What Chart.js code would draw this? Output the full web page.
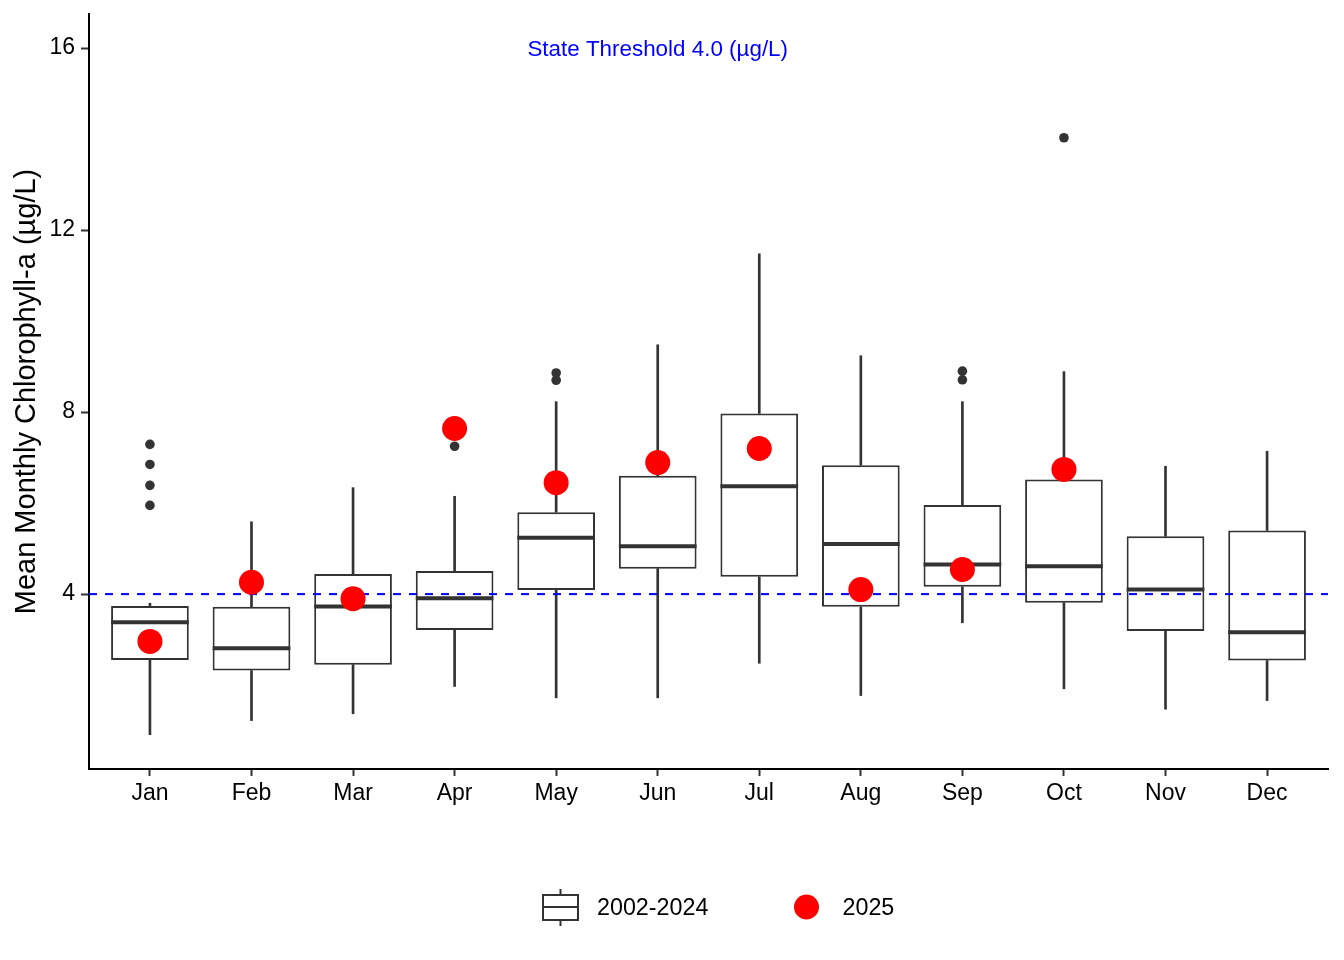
<!DOCTYPE html>
<html>
<head>
<meta charset="utf-8">
<script src="https://cdn.jsdelivr.net/npm/chart.js@4/dist/chart.umd.min.js"></script>
<style>
  body { margin: 0; background: #fff; }
  canvas { display: block; }
</style>
</head>
<body>
<canvas id="chl" width="1344" height="960"></canvas>
<script>
// data
const months = ["Jan", "Feb", "Mar", "Apr", "May", "Jun", "Jul", "Aug", "Sep", "Oct", "Nov", "Dec"];
const whiskerLow = [0.91, 1.22, 1.37, 1.97, 1.72, 1.72, 2.48, 1.77, 3.37, 1.92, 1.47, 1.66];
const q1 = [2.55, 2.32, 2.45, 3.21, 4.09, 4.56, 4.38, 3.72, 4.16, 3.81, 3.19, 2.54];
const median = [3.38, 2.81, 3.73, 3.91, 5.24, 5.05, 6.37, 5.10, 4.65, 4.61, 4.10, 3.16];
const q3 = [3.74, 3.72, 4.44, 4.51, 5.80, 6.60, 7.97, 6.83, 5.96, 6.52, 5.27, 5.40];
const whiskerHigh = [3.80, 5.59, 6.34, 6.15, 8.23, 9.48, 11.48, 9.24, 8.23, 8.89, 6.81, 7.14];
const outlierMonth = [1, 1, 1, 1, 4, 5, 5, 9, 9, 10];
const outlierValue = [7.29, 6.85, 6.39, 5.95, 7.25, 8.86, 8.70, 8.90, 8.71, 14.03];
const values2025 = [2.96, 4.26, 3.90, 7.64, 6.45, 6.89, 7.20, 4.10, 4.54, 6.74];
const yTicks = [4, 8, 12, 16];
const threshold = 4;

const FONT = "'Liberation Sans', Arial, sans-serif";
const DARK = "#333333";

const boxData = months.map((m, i) => ({ x: i + 1, y: [q1[i], q3[i]] }));
const lowData = months.map((m, i) => ({ x: i + 1, y: [whiskerLow[i], q1[i]] }));
const highData = months.map((m, i) => ({ x: i + 1, y: [q3[i], whiskerHigh[i]] }));
const outData = outlierMonth.map((m, i) => ({ x: m, y: outlierValue[i] }));
const pts2025 = values2025.map((v, i) => ({ x: i + 1, y: v }));

// median bars drawn right after the boxes, annotation + legend at the end
const boxExtras = {
    id: "boxExtras",
    afterDatasetDraw(chart, args) {
        if (chart.data.datasets[args.index].label !== "boxes") return;
        const ctx = chart.ctx;
        const yScale = chart.scales.y;
        ctx.save();
        ctx.strokeStyle = DARK;
        ctx.lineWidth = 4;
        args.meta.data.forEach((el, i) => {
            const y = yScale.getPixelForValue(median[i]);
            ctx.beginPath();
            ctx.moveTo(el.x - el.width / 2, y);
            ctx.lineTo(el.x + el.width / 2, y);
            ctx.stroke();
        });
        ctx.restore();
    },
    afterDraw(chart) {
        const ctx = chart.ctx;
        const { x, y } = chart.scales;
        ctx.save();
        // threshold label
        ctx.fillStyle = "#0000FF";
        ctx.font = "22.4px " + FONT;
        ctx.textAlign = "center";
        ctx.textBaseline = "middle";
        ctx.fillText("State Threshold 4.0 (\u00b5g/L)", x.getPixelForValue(6), y.getPixelForValue(16) + 1.5);

        // legend
        const ly = 907;
        ctx.strokeStyle = DARK;
        ctx.lineWidth = 2;
        ctx.strokeRect(543, 895, 35, 25);
        ctx.beginPath();
        ctx.moveTo(543, ly); ctx.lineTo(578, ly);
        ctx.moveTo(560.5, 889); ctx.lineTo(560.5, 895);
        ctx.moveTo(560.5, 920); ctx.lineTo(560.5, 926);
        ctx.stroke();
        ctx.fillStyle = "#FF0000";
        ctx.beginPath();
        ctx.arc(806.5, ly, 12.5, 0, Math.PI * 2);
        ctx.fill();
        ctx.fillStyle = "#000";
        ctx.font = "23.3px " + FONT;
        ctx.textAlign = "left";
        ctx.fillText("2002-2024", 597, ly + 2);
        ctx.fillText("2025", 842.5, ly + 2);
        ctx.restore();
    }
};

new Chart(document.getElementById("chl"), {
    type: "bar",
    data: {
        datasets: [
            {
                type: "scatter",
                label: "2025",
                data: pts2025,
                backgroundColor: "#FF0000",
                borderWidth: 0,
                pointRadius: 12.5,
                pointHoverRadius: 12.5,
                order: 0
            },
            {
                type: "scatter",
                label: "outliers",
                data: outData,
                backgroundColor: DARK,
                borderWidth: 0,
                pointRadius: 4.8,
                pointHoverRadius: 4.8,
                order: 1
            },
            {
                type: "line",
                label: "threshold",
                data: [{ x: 0.4, y: threshold }, { x: 12.6, y: threshold }],
                borderColor: "#0000FF",
                borderWidth: 2,
                borderDash: [8, 8],
                pointRadius: 0,
                order: 2
            },
            {
                label: "boxes",
                data: boxData,
                backgroundColor: "#FFFFFF",
                borderColor: DARK,
                borderWidth: 2,
                borderSkipped: false,
                grouped: false,
                categoryPercentage: 1,
                barPercentage: 0.765,
                order: 4
            },
            {
                label: "whiskerLow",
                data: lowData,
                backgroundColor: DARK,
                borderWidth: 0,
                grouped: false,
                categoryPercentage: 1,
                barPercentage: 1,
                maxBarThickness: 2,
                order: 5
            },
            {
                label: "whiskerHigh",
                data: highData,
                backgroundColor: DARK,
                borderWidth: 0,
                grouped: false,
                categoryPercentage: 1,
                barPercentage: 1,
                maxBarThickness: 2,
                order: 5
            }
        ]
    },
    options: {
        responsive: false,
        animation: false,
        layout: { padding: { top: 14, right: 16, left: 0, bottom: 0 } },
        plugins: {
            legend: { display: false },
            tooltip: { enabled: false }
        },
        scales: {
            x: {
                type: "linear",
                offset: false,
                min: 0.4,
                max: 12.6,
                afterBuildTicks: (scale) => {
                    scale.ticks = months.map((m, i) => ({ value: i + 1 }));
                },
                afterFit: (scale) => {
                    scale.height = 191;
                    scale.paddingLeft = 0;
                    scale.paddingRight = 0;
                },
                ticks: {
                    callback: (v) => months[v - 1],
                    font: { family: FONT, size: 23 },
                    color: "#000",
                    padding: 4,
                    maxRotation: 0,
                    autoSkip: false
                },
                grid: {
                    offset: false,
                    drawOnChartArea: false,
                    drawTicks: true,
                    tickLength: 7,
                    tickColor: DARK,
                    tickWidth: 2
                },
                border: { display: true, color: "#000", width: 2 }
            },
            y: {
                type: "linear",
                min: 0.156,
                max: 16.75,
                afterBuildTicks: (scale) => {
                    scale.ticks = yTicks.map((v) => ({ value: v }));
                },
                afterFit: (scale) => {
                    scale.width = 89;
                    scale.paddingTop = 0;
                    scale.paddingBottom = 0;
                },
                ticks: {
                    font: { family: FONT, size: 23 },
                    color: "#000",
                    padding: 6
                },
                grid: {
                    drawOnChartArea: false,
                    drawTicks: true,
                    tickLength: 8,
                    tickColor: DARK,
                    tickWidth: 2
                },
                border: { display: true, color: "#000", width: 2 },
                title: {
                    display: true,
                    text: "Mean Monthly Chlorophyll-a (\u00b5g/L)",
                    font: { family: FONT, size: 29 },
                    color: "#000",
                    padding: { top: 10, bottom: 0 }
                }
            }
        }
    },
    plugins: [boxExtras]
});
</script>
</body>
</html>
